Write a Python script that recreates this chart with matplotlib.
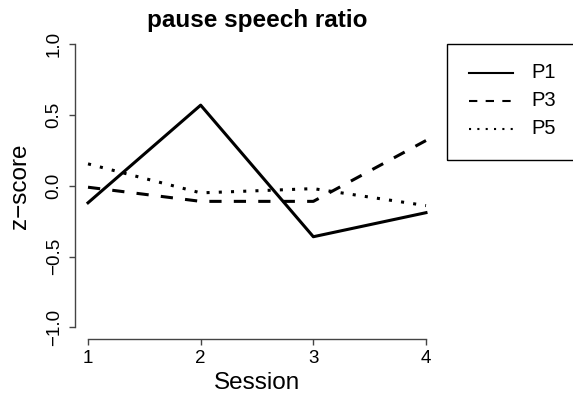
import numpy as np
import matplotlib
matplotlib.use("Agg")
import matplotlib.pyplot as plt
from matplotlib.lines import Line2D
from matplotlib.patches import Rectangle

plt.rcParams['font.family'] = ['Liberation Sans', 'DejaVu Sans']

sessions = [1, 2, 3, 4]
p1 = [-0.12, 0.57, -0.36, -0.19]
p3 = [-0.01, -0.11, -0.11, 0.32]
p5 = [0.155, -0.05, -0.02, -0.14]
names = ['P1', 'P3', 'P5']
styles = ['-', (0, (4, 4)), (0, (1, 3))]

W, H = 573, 401
fig = plt.figure(figsize=(W / 100, H / 100), dpi=100)

# plot region in pixels (R-like 4% padding around the data range)
left, right, top, bottom = 74.5, 439.5, 33.0, 338.6
ax = fig.add_axes([left / W, 1 - bottom / H, (right - left) / W, (bottom - top) / H])

for vals, ls in zip([p1, p3, p5], styles):
    ax.plot(sessions, vals, color='black', lw=2.2, linestyle=ls)

ax.set_xlim(0.88, 4.12)
ax.set_ylim(-1.08, 1.08)
ax.set_xticks(sessions)
ax.set_yticks([-1.0, -0.5, 0.0, 0.5, 1.0])
ax.set_yticklabels(['\u22121.0', '\u22120.5', '0.0', '0.5', '1.0'])

for s in ['top', 'right']:
    ax.spines[s].set_visible(False)
ax.spines['bottom'].set_bounds(1, 4)
ax.spines['left'].set_bounds(-1, 1)
for s in ['bottom', 'left']:
    ax.spines[s].set_color('#444444')
    ax.spines[s].set_linewidth(1.0)
ax.tick_params(direction='out', length=4.5, width=1.0, color='#444444',
               labelsize=13.5, pad=4)
for lbl in ax.get_yticklabels():
    lbl.set_rotation(90)
    lbl.set_va('center')

ax.set_title('pause speech ratio', fontsize=17.5, fontweight='bold', pad=4)
ax.set_xlabel('Session', fontsize=17.5)
ax.set_ylabel('z\u2212score', fontsize=17.5)
ax.xaxis.set_label_coords(0.5, -(383 - bottom) / (bottom - top))
ax.xaxis.label.set_va('center')
ax.yaxis.set_label_coords(-(left - 20) / (right - left), 0.5)
ax.yaxis.label.set_va('center')

# legend box (runs off the right edge like the original)
fig.add_artist(Rectangle((447 / W, 1 - 160 / H), (600 - 447) / W, (160 - 44) / H,
                         transform=fig.transFigure, fill=False, ec='black', lw=1.0))
for name, ls, yy in zip(names, styles, [72.7, 101, 129]):
    fig.add_artist(Line2D([469 / W, 513 / W], [1 - yy / H, 1 - yy / H],
                          transform=fig.transFigure, color='black', lw=1.5, linestyle=ls))
    fig.text(531 / W, 1 - yy / H, name, fontsize=14.5, va='center', ha='left')

fig.savefig('out.png', dpi=100)
